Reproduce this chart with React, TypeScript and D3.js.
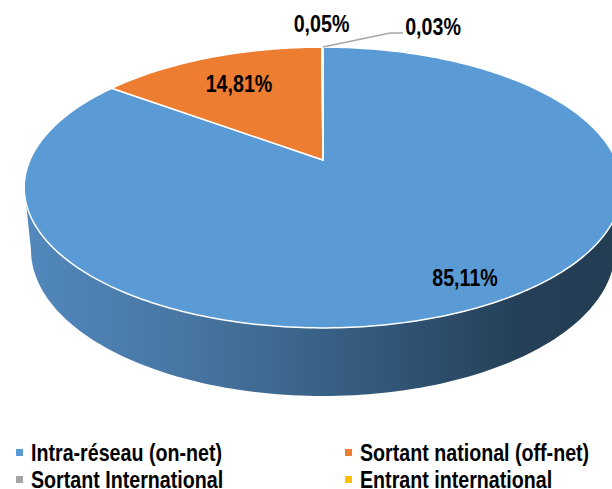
import * as d3 from "d3";

const categories = ["Intra-réseau (on-net)", "Sortant national (off-net)", "Sortant International", "Entrant international"];
const values = [85.11, 14.81, 0.05, 0.03];
const valueLabels = ["85,11%", "14,81%", "0,05%", "0,03%"];
const colors = ["#5b9bd5", "#ed7d31", "#a5a5a5", "#ffc000"];

const width = 612;
const height = 489;

// tilted disc: the pie centre sits above the middle of the ellipse
const cx = 323;
const cy = 160;
const tilt = 0.196;
const scaleX = 293;
const scaleY = 135;

// the reference text is narrower than the plain bold face
const squeeze = 0.855;

function project(angle: number): [number, number] {
  const px = Math.sin(angle);
  const py = -Math.cos(angle);
  const w = 1 - tilt * py;
  return [cx + (scaleX * px) / w, cy + (scaleY * py) / w];
}

function arcPoints(start: number, end: number) {
  const count = Math.max(2, Math.ceil(Math.abs(end - start) * 60));
  const t = d3.scaleLinear().domain([0, count]).range([start, end]);
  return d3.range(count + 1).map((i) => project(t(i)));
}

const line = d3.line();
const slices = d3.pie<number>().sort(null).startAngle(0).endAngle(2 * Math.PI)(values);

// bottom rim of the wall, walked from left to right
const rimX = d3.scaleLinear().domain([-1, 1]).range([323 - 292, 323 + 292]);
const rimY = d3.scaleLinear().domain([-1, 1]).range([250 - 146, 250 + 146]);
const rimPoints = d3.range(0, 121).map((i) => {
  const a = Math.PI * (1 - i / 120);
  return [rimX(Math.cos(a)), rimY(Math.sin(a))] as [number, number];
});

const topRim = arcPoints(Math.PI * 0.56, Math.PI * 1.44);
const wallPath = line([...topRim, ...rimPoints]) + "Z";

const legendX = d3.scalePoint<number>().domain([0, 1]).range([16, 345]);
const legendY = d3.scalePoint<number>().domain([0, 1]).range([461, 488]);
const labelPos: [number, number][] = [
  [465, 286],
  [239, 92],
  [321.5, 32],
  [433, 35],
];

export default function App() {
  return (
    <svg
      width={width}
      height={height}
      viewBox={`0 0 ${width} ${height}`}
      style={{ position: "fixed", left: 0, top: 0, background: "#fff", fontFamily: "'Liberation Sans', Arial, sans-serif" }}
    >
      <defs>
        <linearGradient id="wall" gradientUnits="userSpaceOnUse" x1={25} x2={612} y1={0} y2={0}>
          <stop offset="0" stopColor="#5288bd" />
          <stop offset="0.3" stopColor="#46749f" />
          <stop offset="0.6" stopColor="#33587a" />
          <stop offset="0.85" stopColor="#243f57" />
          <stop offset="1" stopColor="#233d53" />
        </linearGradient>
      </defs>
      <path d={wallPath} fill="url(#wall)" />
      {slices.map((s, i) => (
        <path
          key={categories[i]}
          d={line([[cx, cy], ...arcPoints(s.startAngle, s.endAngle)]) + "Z"}
          fill={colors[i]}
          stroke="#fff"
          strokeWidth={1.5}
          strokeLinejoin="round"
        />
      ))}
      <polyline points="323,47 390,33 403,33" fill="none" stroke="#a6a6a6" strokeWidth={1.5} />
      {valueLabels.map((label, i) => (
        <text
          key={label}
          transform={`translate(${labelPos[i][0]},${labelPos[i][1]}) scale(${squeeze},1)`}
          textAnchor="middle"
          fontSize={23}
          fontWeight="bold"
          fill="#000"
        >
          {label}
        </text>
      ))}
      {categories.map((name, i) => (
        <g key={name}>
          <rect x={legendX(i % 2)!} y={legendY(Math.floor(i / 2))! - 12} width={7} height={7} fill={colors[i]} />
          <text
            transform={`translate(${legendX(i % 2)! + 15},${legendY(Math.floor(i / 2))!}) scale(${squeeze},1)`}
            fontSize={23}
            fontWeight="bold"
            fill="#000"
          >
            {name}
          </text>
        </g>
      ))}
    </svg>
  );
}
